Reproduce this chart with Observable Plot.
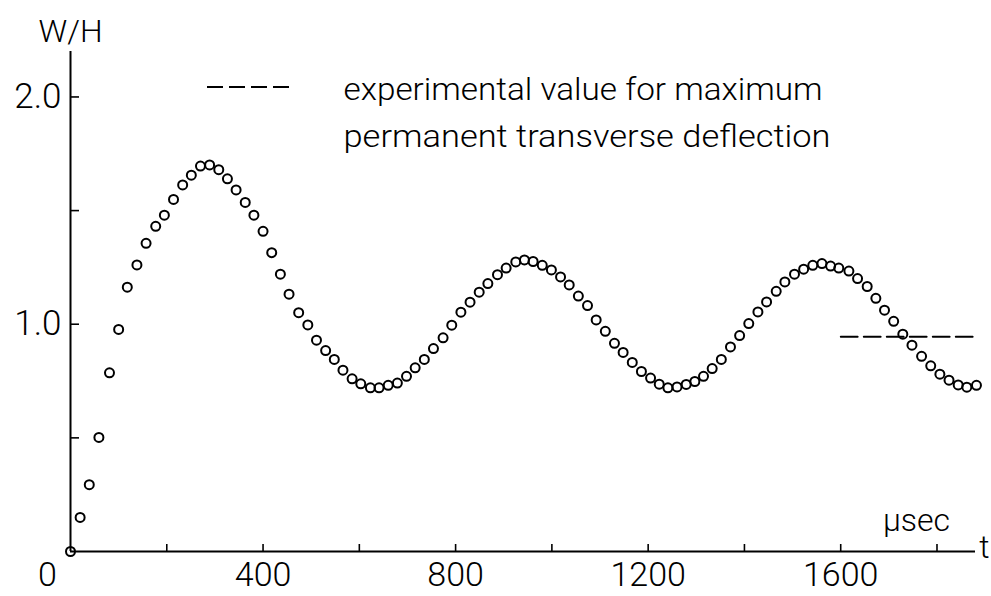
<!DOCTYPE html>
<html><head><meta charset="utf-8">
<script src="https://cdn.jsdelivr.net/npm/d3@7"></script>
<script src="https://cdn.jsdelivr.net/npm/@observablehq/plot@0.6"></script>
<style>
body{margin:0;background:#fff;}
#chart svg{display:block;}
</style></head><body><div id="chart"></div>
<script>
const timeUs = [0,20,39,59,81,100,118,138,157,177,
195,214,233,251,270,289,308,326,344,363,
381,400,418,436,454,474,493,511,530,548,
566,585,603,623,641,660,679,698,716,735,
754,774,792,811,830,849,867,887,905,925,
943,961,980,999,1018,1036,1055,1074,1092,1111,
1130,1148,1167,1186,1205,1223,1241,1260,1279,1297,
1315,1333,1352,1371,1390,1409,1428,1446,1466,1484,
1504,1523,1542,1561,1579,1596,1617,1635,1655,1673,
1691,1710,1729,1748,1768,1787,1806,1825,1844,1862,
1882];
const deflection = [0.000,0.150,0.294,0.502,0.786,0.977,1.163,1.261,1.356,1.431,
1.480,1.549,1.613,1.656,1.696,1.701,1.680,1.640,1.591,1.536,
1.480,1.409,1.315,1.220,1.132,1.051,0.997,0.930,0.884,0.845,
0.798,0.760,0.738,0.720,0.720,0.731,0.741,0.771,0.808,0.845,
0.893,0.940,0.996,1.053,1.097,1.141,1.179,1.218,1.247,1.274,
1.283,1.276,1.259,1.239,1.208,1.173,1.124,1.082,1.019,0.969,
0.916,0.876,0.832,0.792,0.763,0.736,0.720,0.724,0.735,0.748,
0.771,0.805,0.845,0.900,0.950,1.003,1.054,1.098,1.145,1.186,
1.220,1.242,1.259,1.267,1.256,1.247,1.234,1.201,1.166,1.114,
1.062,1.013,0.956,0.908,0.859,0.817,0.780,0.754,0.733,0.723,
0.731];
const xTickValues = [200,400,600,800,1000,1200,1400,1600,1800];
const xLabelValues = [400,800,1200,1600];
const originLabel = ["0"];
const yTickValues = [0.5,1.0,1.5,2.0];
const yLabelValues = [1.0,2.0];
const experimentalT = [1600,1880];
const experimentalW = [0.945,0.945];
const legendLines = ["experimental value for maximum","permanent transverse deflection"];
const yAxisTitle = "W/H";
const xAxisTitle = "t";
const xUnit = "\u00b5sec";

const points = timeUs.map((t,i)=>({t, w: deflection[i]}));
const expLine = experimentalT.map((t,i)=>({t, w: experimentalW[i]}));

const W=991,H=596,mL=70,mR=16,mT=51,mB=45;
const plotW=W-mL-mR, plotH=H-mT-mB;
const FONT = "Roboto, 'DejaVu Sans', sans-serif";

const chart = Plot.plot({
  width: W, height: H,
  marginLeft: mL, marginRight: mR, marginTop: mT, marginBottom: mB,
  x: {domain: [0,1880], axis: null},
  y: {domain: [0,2.2], axis: null},
  style: {fontFamily: FONT, background: "white", color: "black", overflow: "visible"},
  marks: [
    Plot.ruleY([0], {stroke: "black", strokeWidth: 2}),
    Plot.ruleX([0], {stroke: "black", strokeWidth: 2}),
    Plot.tickX(xTickValues, {x: d=>d, insetTop: plotH-7, stroke: "black", strokeWidth: 1.6}),
    Plot.tickY(yTickValues, {y: d=>d, insetRight: plotW-9, stroke: "black", strokeWidth: 1.6}),
    Plot.text(xLabelValues, {x: d=>d, frameAnchor: "bottom", dy: 24, textAnchor: "middle", lineAnchor: "middle", text: d=>String(d), fontSize: 34, fontWeight: 300, fill: "black"}),
    Plot.text(originLabel, {frameAnchor: "bottom-left", dx: -23, dy: 24, textAnchor: "middle", lineAnchor: "middle", text: d=>d, fontSize: 34, fontWeight: 300, fill: "black"}),
    Plot.text(yLabelValues, {y: d=>d, frameAnchor: "left", dx: -9, textAnchor: "end", lineAnchor: "middle", text: d=>d.toFixed(1), fontSize: 35, fontWeight: 300, fill: "black"}),
    Plot.text([yAxisTitle], {frameAnchor: "top-left", dx: 0, dy: -20, textAnchor: "middle", lineAnchor: "middle", text: d=>d, fontSize: 32, fontWeight: 300, fill: "black"}),
    Plot.text([xAxisTitle], {frameAnchor: "bottom-right", dx: 9, dy: -4, textAnchor: "middle", lineAnchor: "middle", text: d=>d, fontSize: 32, fontWeight: 300, fill: "black"}),
    Plot.text([xUnit], {frameAnchor: "bottom-right", dx: -59, dy: -31, textAnchor: "middle", lineAnchor: "middle", text: d=>d, fontSize: 32, fontWeight: 300, fill: "black"}),
    Plot.text([legendLines[0]], {frameAnchor: "top-left", dx: 273, dy: 26, textAnchor: "start", lineAnchor: "top", text: d=>d, fontSize: 32, fontWeight: 300, fill: "black"}),
    Plot.text([legendLines[1]], {frameAnchor: "top-left", dx: 273, dy: 73, textAnchor: "start", lineAnchor: "top", text: d=>d, fontSize: 32, fontWeight: 300, fill: "black"}),
    Plot.line(expLine, {x: "t", y: "w", stroke: "black", strokeWidth: 1.8, strokeDasharray: "17,6"}),
    Plot.dot(points, {x: "t", y: "w", r: 4.5, stroke: "black", strokeWidth: 2, fill: "none"})
  ]
});
document.getElementById("chart").appendChild(chart);

const svg = d3.select(chart);
// legend dash sample
svg.append("line").attr("x1", 207).attr("x2", 290).attr("y1", 87).attr("y2", 87)
  .attr("stroke", "black").attr("stroke-width", 1.8).attr("stroke-dasharray", "16,6");
// fit legend text widths to reference
svg.selectAll("text").each(function(){
  const t = this.textContent;
  if (t === legendLines[0]) { this.setAttribute("textLength", 479); this.setAttribute("lengthAdjust", "spacingAndGlyphs"); }
  if (t === legendLines[1]) { this.setAttribute("textLength", 487); this.setAttribute("lengthAdjust", "spacingAndGlyphs"); }
});
</script></body></html>
